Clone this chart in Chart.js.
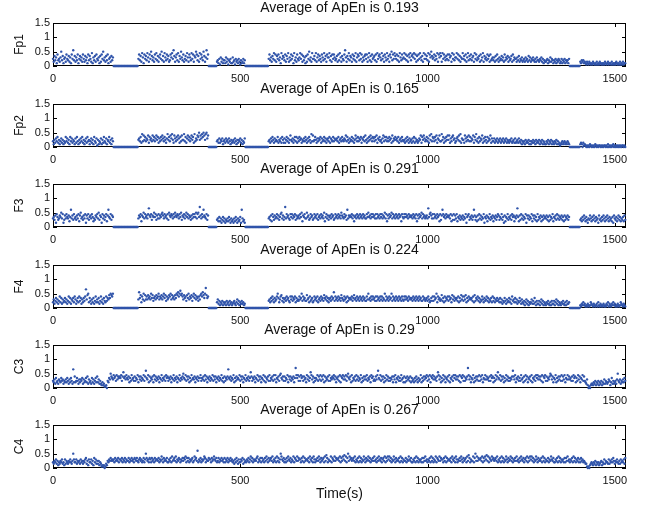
<!DOCTYPE html>
<html>
<head>
<meta charset="utf-8">
<script src="https://cdn.jsdelivr.net/npm/chart.js@4.4.0/dist/chart.umd.min.js"></script>
<style>
  body { margin: 0; background: #fff; }
  #wrap { position: relative; width: 654px; height: 506px; }
  canvas { position: absolute; left: 0; }
</style>
</head>
<body>
<div id="wrap"></div>
<script>
// ApEn value every 2 s, one hex digit per window: value = digit * 0.05
const step = 2;
const xMax = 1530;
const xTicks = [0, 500, 1000, 1500];
const yTicks = [0, 0.5, 1, 1.5];
const channels = ['Fp1', 'Fp2', 'F3', 'F4', 'C3', 'C4'];
const averages = ['0.193', '0.165', '0.291', '0.224', '0.29', '0.267'];

const fp1 =
  '5374628453 6a47256385 4736285b47 3648257463 8537462847 5392647385 4627385a46 3748256374 6' +
  '0000000000 0000000000 0000000000 000' +
  '5847396285 7496385a74 6385947368 5a47396485 7348695b73 6849375a64 8357496386 4958376a84 7395864a73 6b58' +
  '0000000000 0' +
  '3425163524 4263514352 2634153425 31423524' +
  '0000000000 0000000000 0000000000 0' +
  '5846375948 3758462957 6483759364 8572946385 4695837462 7385a46395 5749368475 3864957386 6947385864 5738496375' +
  '48b6375947 6385749368 7495836478 5836947385 6748395786 4957386495 7386a48597 5847396485 6958473869 4786958374' +
  '8596473958 5749386a75 6847593869 7395864758 4867395846 6958473659 5748369475 8467395846 5738469375 6485738456' +
  '4637485364 5746384657 3645738465 5364735463 4536453746 3546435364 4354635243 3452436354 2435243542 3524352434 25' +
  '0000000000 0000' +
  '3243423213 2132121321 2131213212 1213212312 2131212132 1213121312 2';

const fp2 =
  '4253647352 4635243746 3527463542 6374253647 3524637452 4635274361 5243625374 3625473526 4' +
  '0000000000 0000000000 0000000000 000' +
  '5647394857 4658375648 5746857364 7586475369 5748695386 4758637485 5947368574 6857394658 7a58697a85 9a68' +
  '0000000000 0' +
  '4536354624 5364536425 3453642535 46352436' +
  '0000000000 0000000000 0000000000 0' +
  '4536475364 5473546375 3635746358 5463574736 4756354647 5364753948 4575364657 3645746356 4736547465 5647356475' +
  '4658475364 5746358647 4657365748 5364758647 6475836574 5368475746 4756384657 5647356475 4536475364 5364736453' +
  '4658375864 5746385947 6475836584 4957364758 5836478563 4675849365 5386475847 4658375946 3746583647 5374658364' +
  '4635463546 3546354635 4354634536 3453643524 3425343524 2435342534 3524352432 2435243524 3243524231 2342342324 32' +
  '0000000000 0000' +
  '2320312101 0102101010 2101011010 1011010201 0101201010 1010101101 0';

const f3 =
  '6758397568 7a69358697 6847c68596 7586948a67 5869386957 8697465879 6a58739685 7948c76958 7' +
  '0000000000 0000000000 0000000000 000' +
  '6879487a69 7869d87958 7a79586968 79a8697869 5a8798697a 8798697a58 7968a79687 5869797a69 a7e8697c87 6958' +
  '0000000000 0' +
  '5647463574 6354647536 4536475364 573c6453' +
  '0000000000 0000000000 0000000000 0' +
  '6758497586 7968579a68 57e6978659 7968795867 8697a48796 6a78569785 6978695786 9786a47968 5786978569 7869786a87' +
  '69785c6878 7968478697 8697869786 697a786979 7869697869 79687a6948 6978a69786 9786978497 6979786978 7869786948' +
  '6978a69786 786d79a869 6978697849 58c9786978 7869485958 6947685768 5769378957 6857c85748 5968576937 6847695768' +
  '4768579857 6957384769 5768597847 68d7485968 5769386857 6948685749 5768475867 6857485769 4768596857 6857485768 57' +
  '0000000000 0000' +
  '5647586475 3658647586 4756385647 5864758647 5647386574 6857465748 5';

const f4 =
  '4635746358 4736457463 5847365748 6357485736 4758d69a47 5364735846 4735846375 4857697a98 a' +
  '0000000000 0000000000 0000000000 000' +
  '6b79486a59 6869786a79 5786978a68 7968a79586 798a697869 7a9b8ac9a8 6978597a68 7958a79687 5869a8b97a e978' +
  '0000000000 0' +
  '4635243524 3425342534 2345324635 24353423' +
  '0000000000 0000000000 0000000000 0' +
  '5647586475 68a7468957 4675867548 6857684756 5867a58675 5967485674 5867584675 8675976857 4675867b58 6758675976' +
  '5867485767 6857967586 7586758675 586a675868 6758586758 68576a5867 5867a58675 8675867586 5868675867 6758675867' +
  '5867558675 6758645758 5867a48675 6957485768 5867496857 6758475968 5869475867 6758495768 5746586475 6857465748' +
  '5746575647 4635475364 5746385647 4635475364 3524635243 4635374253 3524635243 2435324253 3524635243 2435324253 34' +
  '0000000000 0000' +
  '2132423121 3212432132 1231421321 2312132413 2132423121 3212432132 1';

const c3 =
  '5463745365 4756354647 5364753d48 4575364657 3645748364 5374635748 4635324231 1205476a87 6978596878 7958b78697' +
  '6847596758 5769486857 6958c76948 5768496857 6847695768 5978576847 6957684769 5768a76958 6847596768 4768577957' +
  '6859684768 5769586847 6857695748 5768d76857 6947586769 5868476957 6857b85768 4769586847 6958476859 5768596947' +
  '6859a76858 5769486857 6847e97958 5978586749 6857b96847 5769586958 6948576859 5768796847 6859487968 6958a76849' +
  '5768596857 6947586869 5768497856 5869c76958 6847596857 5768486947 6857596748 4758675847 5647586475 6947586879' +
  '5869487968 6758b96847 5968476859 4768597968 6859487958 5768e96847 6947586859 5869476968 6758597847 5968b76958' +
  '6847596857 5768c86947 6857596748 5968476859 4768597968 6859487958 5768a96847 6947586859 5869476968 6758597847' +
  '5968476958 5436201023 3243524352 4352436354 3465247353 4536a54635 46475';

const c4 =
  '4354635243 5463426354 3546435a64 4635453645 3546735264 4635274635 3524312120 1325465756 5647565746 6574657465' +
  '5746575647 6575467564 5746a75647 6475647566 5746586475 6574465748 5675846576 4657576847 5746567458 675c465746' +
  '5687465576 6475686574 5746575647 4657465756 4536475364 4657364546 5746857465 6578465747 5647586475 6758465748' +
  '5746a86574 6475865746 5847658576 6475847566 5748657486 4657586475 6748597465 5847658576 6758475869 5847a58675' +
  '6758465748 5746586475 6857465758 5647586574 6758475868 5746586475 6574857465 5746586574 4657485746 5647475856' +
  '4657485746 5847658576 6475847566 5748657486 4657586475 6748597465 5847a58576 6758475869 5847658675 6758465748' +
  '5746586475 6857465758 5647586574 6758475868 5746586475 6574857465 5746586574 4657485746 5647475856 4657485746' +
  '5746475645 4331010234 3243524342 3452436354 4363546475 3546435364 54637';

const series = [fp1, fp2, f3, f4, c3, c4];

function toPoints(s) {
  return s.replace(/\s/g, '').split('').map((c, i) => ({ x: i * step, y: parseInt(c, 16) * 0.05 }));
}

const frame = {
  id: 'frame',
  beforeDatasetsDraw(chart) {
    const { ctx, chartArea: a, scales: { x, y } } = chart;
    ctx.save();
    ctx.strokeStyle = '#000';
    ctx.lineWidth = 1;
    ctx.strokeRect(a.left + 0.5, a.top + 0.5, a.width - 1, a.height - 1);
    ctx.beginPath();
    xTicks.forEach(v => {
      const px = Math.round(x.getPixelForValue(v)) + 0.5;
      ctx.moveTo(px, a.top); ctx.lineTo(px, a.top + 4);
      ctx.moveTo(px, a.bottom); ctx.lineTo(px, a.bottom - 4);
    });
    yTicks.forEach(v => {
      const py = Math.round(y.getPixelForValue(v)) + 0.5;
      ctx.moveTo(a.left, py); ctx.lineTo(a.left + 4, py);
      ctx.moveTo(a.right, py); ctx.lineTo(a.right - 4, py);
    });
    ctx.stroke();
    ctx.restore();
  }
};

const font = 'Liberation Sans, Arial, sans-serif';
const panelTop = [0, 81, 161, 242, 322, 402];
const wrap = document.getElementById('wrap');

series.forEach((s, k) => {
  const last = k === series.length - 1;
  const h = last ? 104 : 86;
  const cv = document.createElement('canvas');
  cv.width = 654; cv.height = h;
  cv.style.top = panelTop[k] + 'px';
  wrap.appendChild(cv);

  new Chart(cv, {
    type: 'scatter',
    data: {
      datasets: [{
        data: toPoints(s),
        backgroundColor: 'rgb(48,84,170)',
        borderWidth: 0,
        pointRadius: 1.2,
        clip: false
      }]
    },
    options: {
      responsive: false,
      animation: false,
      events: [],
      layout: { padding: { left: 0, right: 28, top: 0, bottom: 0 } },
      plugins: {
        legend: { display: false },
        tooltip: { enabled: false },
        title: {
          display: true,
          text: 'Average of ApEn is ' + averages[k],
          fullSize: false,
          color: '#111',
          font: { family: font, size: 14, weight: 'normal' },
          padding: { top: 0, bottom: 6.2 }
        }
      },
      scales: {
        x: {
          type: 'linear',
          min: 0,
          max: xMax,
          afterBuildTicks: sc => { sc.ticks = xTicks.map(v => ({ value: v })); },
          afterFit: sc => { sc.height = h - 66; },
          grid: { display: false, drawTicks: false },
          border: { display: false },
          ticks: { padding: 6, color: '#111', maxRotation: 0, autoSkip: false, callback: v => String(v), font: { family: font, size: 11 } },
          title: {
            display: last,
            text: 'Time(s)',
            color: '#111',
            font: { family: font, size: 14 },
            padding: { top: 0, bottom: 3.6 }
          }
        },
        y: {
          min: 0,
          max: 1.5,
          afterBuildTicks: sc => { sc.ticks = yTicks.map(v => ({ value: v })); },
          afterFit: sc => { sc.width = 53; },
          grid: { display: false, drawTicks: false },
          border: { display: false },
          ticks: { padding: 3, color: '#111', autoSkip: false, callback: v => String(v), font: { family: font, size: 11 } },
          title: {
            display: true,
            text: channels[k],
            color: '#111',
            font: { family: font, size: 12 },
            padding: { top: 12, bottom: 0 }
          }
        }
      }
    },
    plugins: [frame]
  });
});
</script>
</body>
</html>
